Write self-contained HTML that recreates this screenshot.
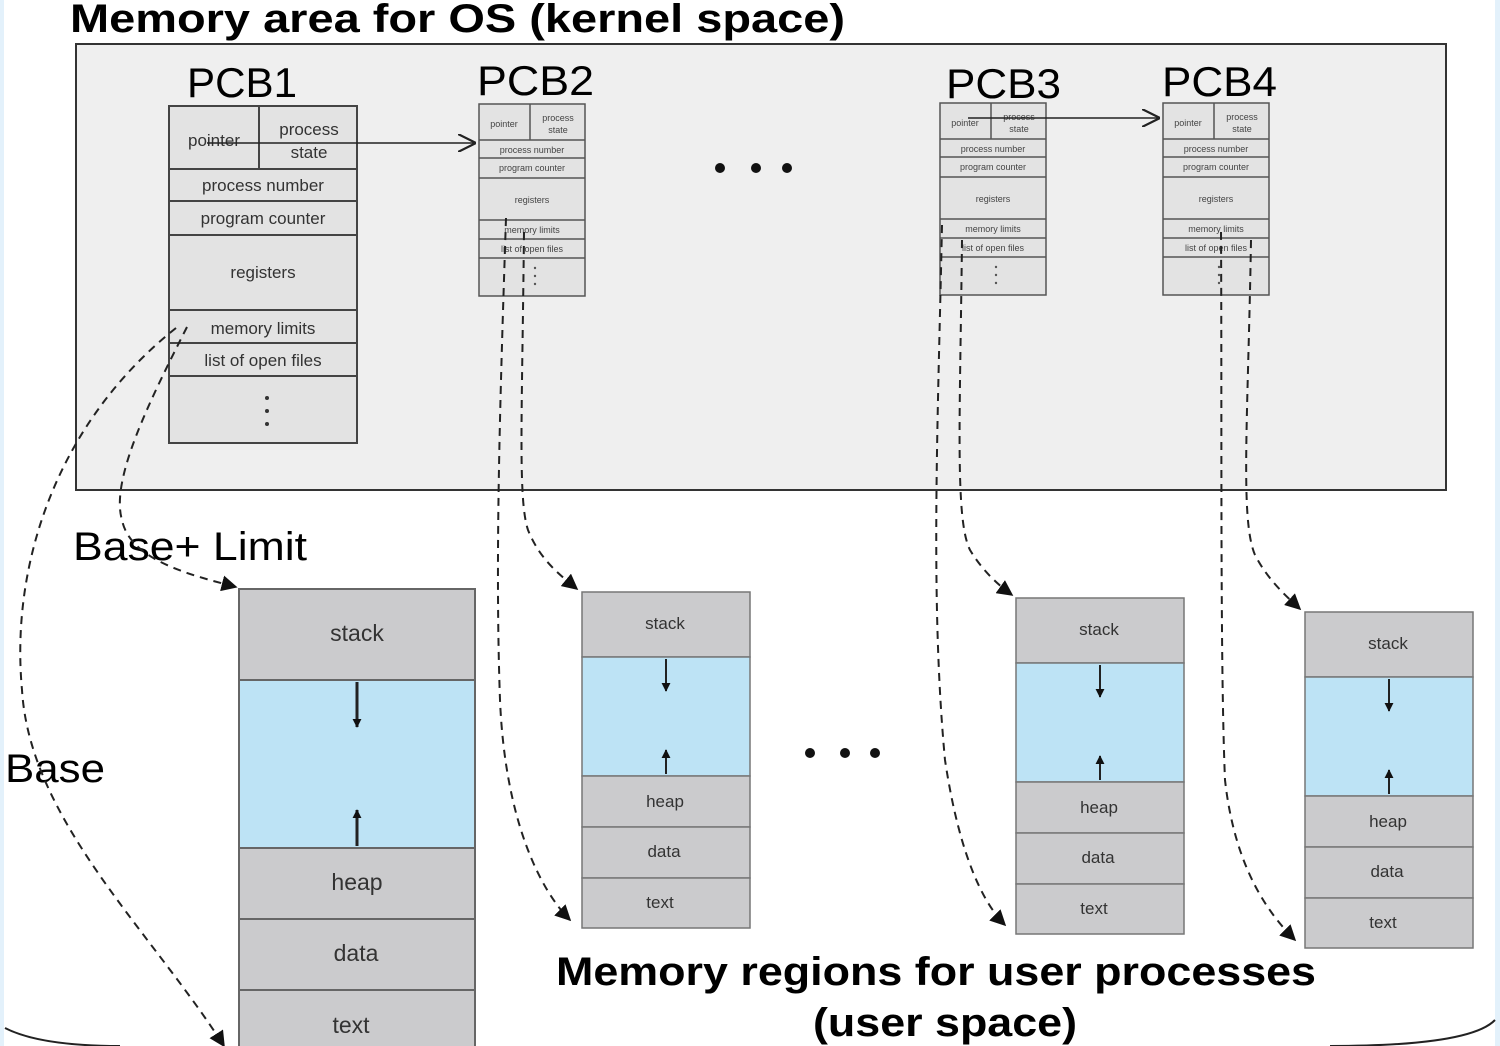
<!DOCTYPE html>
<html><head><meta charset="utf-8"><style>
html,body{margin:0;padding:0;background:#fff;width:1500px;height:1046px;overflow:hidden}
svg{display:block}
</style></head><body>
<svg width="1500" height="1046" viewBox="0 0 1500 1046" xmlns="http://www.w3.org/2000/svg" font-family="Liberation Sans, DejaVu Sans, sans-serif">
<defs>
<marker id="ah" viewBox="0 0 10 10" refX="9" refY="5" markerWidth="9" markerHeight="9" orient="auto-start-reverse" markerUnits="userSpaceOnUse"><path d="M0,0 L10,5 L0,10 z" fill="#111"/></marker>
<marker id="ah2" viewBox="0 0 10 10" refX="9" refY="5" markerWidth="16" markerHeight="16" orient="auto" markerUnits="userSpaceOnUse"><path d="M0,0 L10,5 L0,10 z" fill="#111"/></marker>
<marker id="ch" viewBox="0 0 10 10" refX="10" refY="5" markerWidth="18" markerHeight="18" orient="auto" markerUnits="userSpaceOnUse"><path d="M0,0 L10,5 L0,10" fill="none" stroke="#222" stroke-width="1.2"/></marker>
</defs>
<rect x="0" y="0" width="4" height="1046" fill="#e3f1fb"/>
<rect x="1495" y="0" width="5" height="1046" fill="#e3f1fb"/>
<path d="M5,1028 Q40,1046 120,1046" fill="none" stroke="#222" stroke-width="2"/>
<path d="M1495,1020 Q1470,1046 1330,1046" fill="none" stroke="#222" stroke-width="2"/>

<text x="70" y="32" font-size="40" font-weight="bold" textLength="775" lengthAdjust="spacingAndGlyphs">Memory area for OS (kernel space)</text>
<rect x="76" y="44" width="1370" height="446" fill="#efefef" stroke="#333" stroke-width="2"/>

<!-- PCB1 -->
<text x="187" y="97" font-size="42" textLength="110" lengthAdjust="spacingAndGlyphs">PCB1</text>
<g fill="#e3e3e3" stroke="#444" stroke-width="2">
<rect x="169" y="106" width="188" height="337"/>
<line x1="169" y1="169" x2="357" y2="169"/><line x1="259" y1="106" x2="259" y2="169"/>
<line x1="169" y1="201" x2="357" y2="201"/><line x1="169" y1="235" x2="357" y2="235"/>
<line x1="169" y1="310" x2="357" y2="310"/><line x1="169" y1="343" x2="357" y2="343"/>
<line x1="169" y1="376" x2="357" y2="376"/>
</g>
<g font-size="17" fill="#333" text-anchor="middle">
<text x="214" y="146">pointer</text><text x="309" y="135">process</text><text x="309" y="158">state</text>
<text x="263" y="191">process number</text><text x="263" y="224">program counter</text>
<text x="263" y="278">registers</text><text x="263" y="334">memory limits</text><text x="263" y="366">list of open files</text>
</g>
<g fill="#333"><circle cx="267" cy="398" r="2"/><circle cx="267" cy="411" r="2"/><circle cx="267" cy="424" r="2"/></g>
<line x1="207" y1="143" x2="476" y2="143" stroke="#222" stroke-width="1.6" marker-end="url(#ch)"/>

<!-- small PCBs -->
<g id="pcb2">
<g fill="#e3e3e3" stroke="#555" stroke-width="1.5">
<rect x="479" y="104" width="106" height="192"/>
<line x1="479" y1="140" x2="585" y2="140"/><line x1="530" y1="104" x2="530" y2="140"/>
<line x1="479" y1="158" x2="585" y2="158"/><line x1="479" y1="178" x2="585" y2="178"/>
<line x1="479" y1="220" x2="585" y2="220"/><line x1="479" y1="239" x2="585" y2="239"/><line x1="479" y1="258" x2="585" y2="258"/>
</g>
<g font-size="9" fill="#444" text-anchor="middle">
<text x="504" y="127">pointer</text><text x="558" y="121">process</text><text x="558" y="133">state</text>
<text x="532" y="153">process number</text><text x="532" y="171">program counter</text>
<text x="532" y="203">registers</text><text x="532" y="233">memory limits</text><text x="532" y="252">list of open files</text>
</g>
<g fill="#555"><circle cx="535" cy="268" r="1.2"/><circle cx="535" cy="276" r="1.2"/><circle cx="535" cy="284" r="1.2"/></g>
</g>
<text x="477" y="95" font-size="42" textLength="117" lengthAdjust="spacingAndGlyphs">PCB2</text>
<use href="#pcb2" x="461" y="-1"/>
<use href="#pcb2" x="684" y="-1"/>
<text x="946" y="98" font-size="42" textLength="115" lengthAdjust="spacingAndGlyphs">PCB3</text>
<text x="1162" y="96" font-size="42" textLength="115" lengthAdjust="spacingAndGlyphs">PCB4</text>
<line x1="968" y1="118" x2="1160" y2="118" stroke="#222" stroke-width="1.6" marker-end="url(#ch)"/>

<g fill="#111"><circle cx="720" cy="168" r="5"/><circle cx="756" cy="168" r="5"/><circle cx="787" cy="168" r="5"/>
<circle cx="810" cy="753" r="5"/><circle cx="845" cy="753" r="5"/><circle cx="875" cy="753" r="5"/></g>

<text x="73" y="560" font-size="40" textLength="234" lengthAdjust="spacingAndGlyphs">Base+ Limit</text>
<text x="5" y="782" font-size="40" textLength="100" lengthAdjust="spacingAndGlyphs">Base</text>

<!-- Memory block 1 -->
<g stroke="#666" stroke-width="2">
<rect x="239" y="589" width="236" height="91" fill="#cbcbcd"/>
<rect x="239" y="680" width="236" height="168" fill="#bde3f5"/>
<rect x="239" y="848" width="236" height="71" fill="#cbcbcd"/>
<rect x="239" y="919" width="236" height="71" fill="#cbcbcd"/>
<rect x="239" y="990" width="236" height="70" fill="#cbcbcd"/>
</g>
<g font-size="23" fill="#333" text-anchor="middle">
<text x="357" y="641">stack</text><text x="357" y="890">heap</text><text x="356" y="961">data</text><text x="351" y="1033">text</text>
</g>
<line x1="357" y1="682" x2="357" y2="727" stroke="#222" stroke-width="3" marker-end="url(#ah)"/>
<line x1="357" y1="846" x2="357" y2="810" stroke="#222" stroke-width="3" marker-end="url(#ah)"/>

<!-- small memory block -->
<g id="mb">
<g stroke="#777" stroke-width="1.5">
<rect x="582" y="592" width="168" height="65" fill="#cbcbcd"/>
<rect x="582" y="657" width="168" height="119" fill="#bde3f5"/>
<rect x="582" y="776" width="168" height="51" fill="#cbcbcd"/>
<rect x="582" y="827" width="168" height="51" fill="#cbcbcd"/>
<rect x="582" y="878" width="168" height="50" fill="#cbcbcd"/>
</g>
<g font-size="17" fill="#333" text-anchor="middle">
<text x="665" y="629">stack</text><text x="665" y="807">heap</text><text x="664" y="857">data</text><text x="660" y="908">text</text>
</g>
<line x1="666" y1="659" x2="666" y2="691" stroke="#222" stroke-width="2" marker-end="url(#ah)"/>
<line x1="666" y1="774" x2="666" y2="750" stroke="#222" stroke-width="2" marker-end="url(#ah)"/>
</g>
<use href="#mb" x="434" y="6"/>
<use href="#mb" x="723" y="20"/>

<!-- dashed connectors -->
<g fill="none" stroke="#222" stroke-width="2" stroke-dasharray="8,6" marker-end="url(#ah2)">
<path d="M176,328 C60,420 10,560 22,690 C30,820 150,930 224,1046"/>
<path d="M187,327 C150,400 110,480 122,520 C130,560 190,575 236,587"/>
<path d="M506,218 C500,400 495,560 500,700 C505,820 540,890 570,920"/>
<path d="M524,232 C522,420 518,500 528,530 C540,560 560,575 577,589"/>
<path d="M942,225 C938,420 930,600 945,760 C960,860 985,905 1005,925"/>
<path d="M962,240 C960,420 955,520 970,550 C982,570 998,585 1012,595"/>
<path d="M1221,232 C1222,420 1220,660 1225,780 C1235,870 1270,915 1295,940"/>
<path d="M1251,240 C1248,420 1240,520 1255,555 C1268,580 1285,595 1300,609"/>
</g>

<text x="556" y="985" font-size="40" font-weight="bold" textLength="760" lengthAdjust="spacingAndGlyphs">Memory regions for user processes</text>
<text x="813" y="1036" font-size="40" font-weight="bold" textLength="264" lengthAdjust="spacingAndGlyphs">(user space)</text>
</svg>
</body></html>
